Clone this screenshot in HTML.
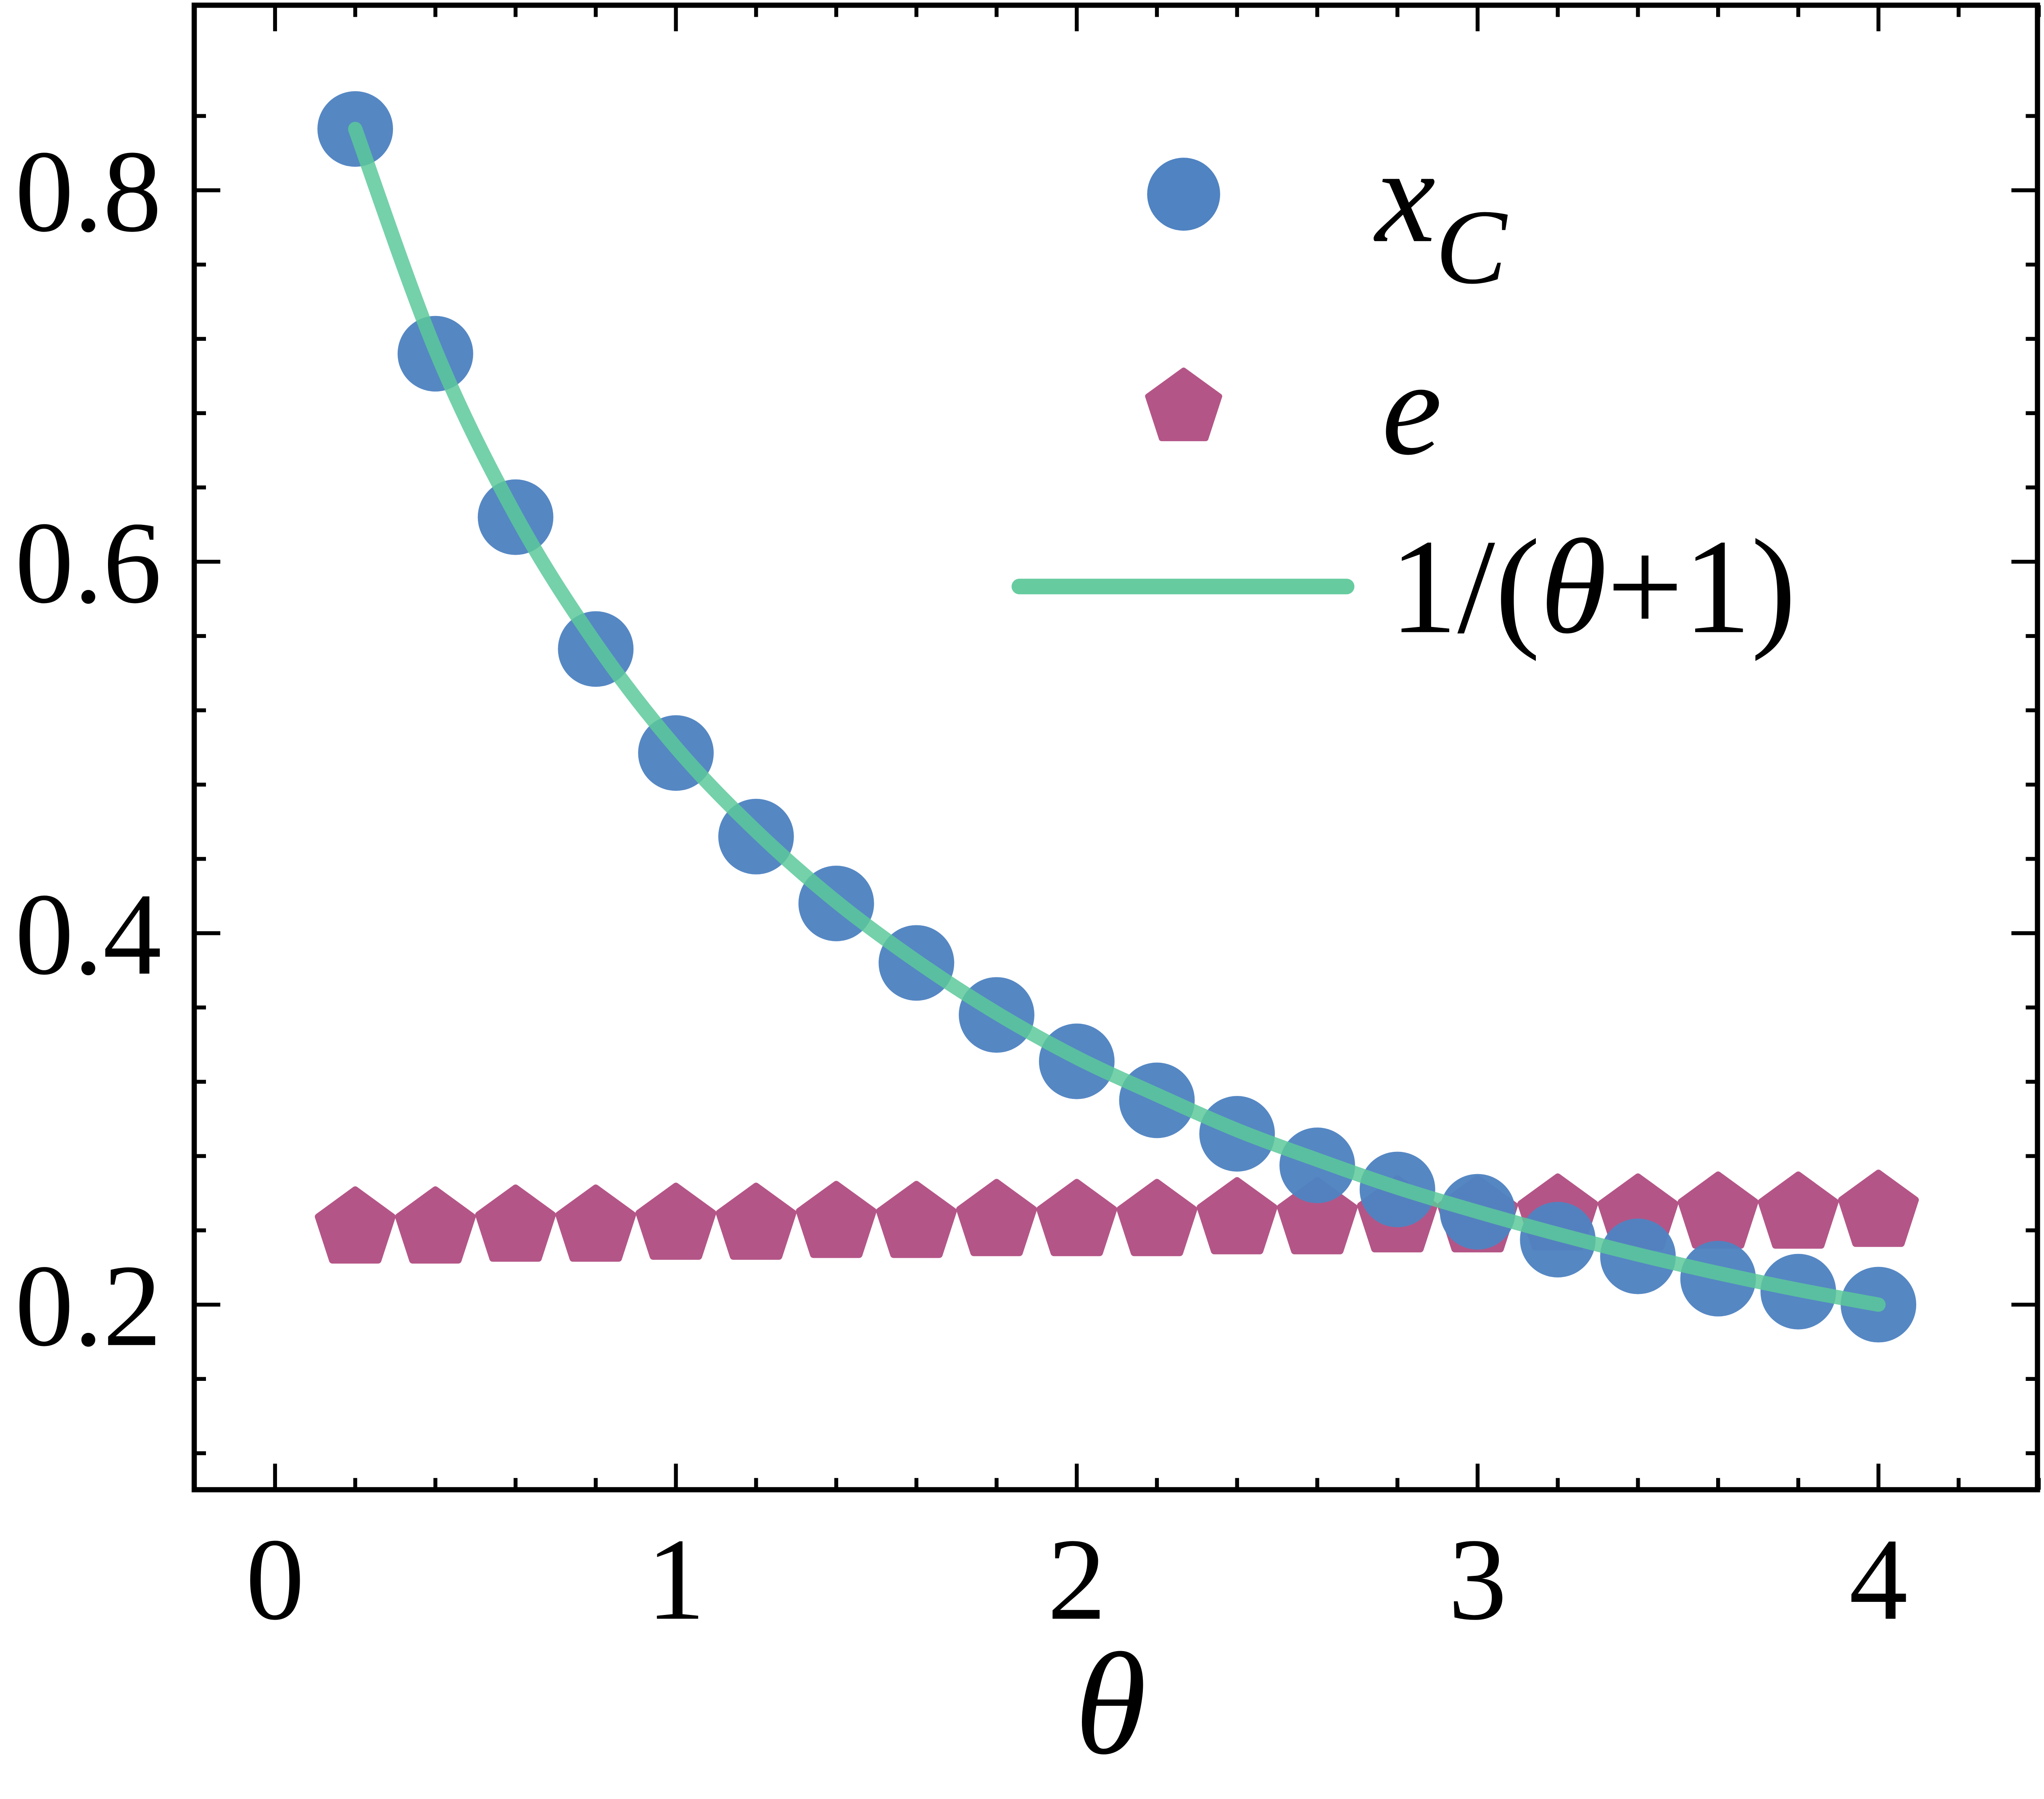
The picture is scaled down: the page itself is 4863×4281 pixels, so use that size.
<!DOCTYPE html>
<html><head><meta charset="utf-8"><style>html,body{margin:0;padding:0;background:#fff}svg{display:block}svg text{font-family:"Liberation Serif",serif}</style></head>
<body>
<svg id="chart" width="4863" height="4281" viewBox="0 0 1568 1380.3" preserveAspectRatio="none" xmlns="http://www.w3.org/2000/svg">
<rect x="0" y="0" width="1568" height="1381" fill="#fff"/>
<g id="grid-ticks"></g>
<g id="eseries"></g>
<g id="xseries"></g>
<g id="curve"></g>
<rect x="149" y="4" width="1414" height="1139" fill="none" stroke="#000" stroke-width="4"/>
<g id="labels" font-size="90" fill="#000"></g>
<text x="852" y="1345" font-size="112" font-style="italic" text-anchor="middle">θ</text>
<g>
  <circle cx="908" cy="149" r="28" fill="#4f83c1"/>
  <text x="1055" y="185" font-size="104" font-style="italic">x<tspan font-size="82" dy="32">C</tspan></text>
  <polygon id="legpent" fill="#b45587" stroke="#b45587" stroke-width="4" stroke-linejoin="round"/>
  <text x="1060" y="348" font-size="104" font-style="italic">e</text>
  <line x1="782" y1="450" x2="1033" y2="450" stroke="#66cca0" stroke-width="12" stroke-linecap="round"/>
  <text x="1066" y="485" font-size="104">1/(<tspan font-style="italic">θ</tspan>+1)</text>
</g>
</svg>
<script>
const thetas=[0.2,0.4,0.6,0.8,1.0,1.2,1.4,1.6,1.8,2.0,2.2,2.4,2.6,2.8,3.0,3.2,3.4,3.6,3.8,4.0];
const xcValues=[0.833,0.712,0.624,0.553,0.497,0.452,0.416,0.384,0.356,0.331,0.310,0.292,0.275,0.262,0.250,0.235,0.226,0.214,0.207,0.200];
const eValues=[0.243,0.243,0.244,0.244,0.245,0.245,0.246,0.246,0.247,0.247,0.247,0.248,0.248,0.249,0.249,0.250,0.250,0.251,0.251,0.252];
const curveValues=[0.833,0.714,0.625,0.556,0.500,0.455,0.417,0.385,0.357,0.333,0.313,0.294,0.278,0.263,0.250,0.238,0.227,0.217,0.208,0.200];
const xTickLabels=["0","1","2","3","4"];
const yTickLabels=["0.2","0.4","0.6","0.8"];
const NS="http://www.w3.org/2000/svg";
function X(v){return 211+v*307.5;}
function Y(v){return 1001-(v-0.2)*1425;}
function mk(tag,attrs,parent){const e=document.createElementNS(NS,tag);for(const k in attrs)e.setAttribute(k,attrs[k]);parent.appendChild(e);return e;}
const ticks=document.getElementById('grid-ticks');
for(let i=0;i<=22;i++){const v=i*0.2;const x=X(v);const major=(i%5===0);const L=major?20:9;
 let t=mk('line',{x1:x,y1:1143,x2:x,y2:1143-L,stroke:'#000','stroke-width':3},ticks);
 
 
 t=mk('line',{x1:x,y1:4,x2:x,y2:4+L,stroke:'#000','stroke-width':3},ticks);
 
 }
for(let i=1;i<=19;i++){const v=0.08+i*0.04;const y=Y(v);if(y<6||y>1141)continue;const major=(Math.round(v*100)%20===0);const L=major?20:9;
 let t=mk('line',{x1:149,y1:y,x2:149+L,y2:y,stroke:'#000','stroke-width':3},ticks);
 
 
 t=mk('line',{x1:1563,y1:y,x2:1563-L,y2:y,stroke:'#000','stroke-width':3},ticks);
 
 }
const labels=document.getElementById('labels');
xTickLabels.forEach((s,i)=>{const t=mk('text',{x:X(i),y:1242,'text-anchor':'middle'},labels);t.textContent=s;
 
 });
yTickLabels.forEach((s,i)=>{const t=mk('text',{x:124,y:Y(0.2+i*0.2)+31,'text-anchor':'end'},labels);t.textContent=s;
 
 });
const pts=thetas.map((t,i)=>[X(t),Y(curveValues[i])]);
let d='M'+pts[0][0]+','+pts[0][1];
for(let i=0;i<pts.length-1;i++){const p0=pts[Math.max(0,i-1)],p1=pts[i],p2=pts[i+1],p3=pts[Math.min(pts.length-1,i+2)];
 d+=' C'+(p1[0]+(p2[0]-p0[0])/6)+','+(p1[1]+(p2[1]-p0[1])/6)+' '+(p2[0]-(p3[0]-p1[0])/6)+','+(p2[1]-(p3[1]-p1[1])/6)+' '+p2[0]+','+p2[1];}
const cp=mk('path',{d:d,fill:'none',stroke:'#5cc99a','stroke-opacity':0.85,'stroke-width':11,'stroke-linecap':'round'},document.getElementById('curve'));


function pent(cx,cy,r){let s=[];for(let k=0;k<5;k++){const a=-Math.PI/2+k*2*Math.PI/5;s.push((cx+r*Math.cos(a)).toFixed(1)+','+(cy+r*Math.sin(a)).toFixed(1));}return s.join(' ');}
const eg=document.getElementById('eseries');
thetas.forEach((t,i)=>{const p=mk('polygon',{points:pent(X(t),Y(eValues[i])+3,30),fill:'#b45587',stroke:'#b45587','stroke-width':5,'stroke-linejoin':'round'},eg);
 
 });
const xg=document.getElementById('xseries');
thetas.forEach((t,i)=>{const c=mk('circle',{cx:X(t),cy:Y(xcValues[i]),r:29,fill:'#4f83c1','fill-opacity':0.97},xg);
 
 });
document.getElementById('legpent').setAttribute('points',pent(908,313,29));
</script>
</body></html>
